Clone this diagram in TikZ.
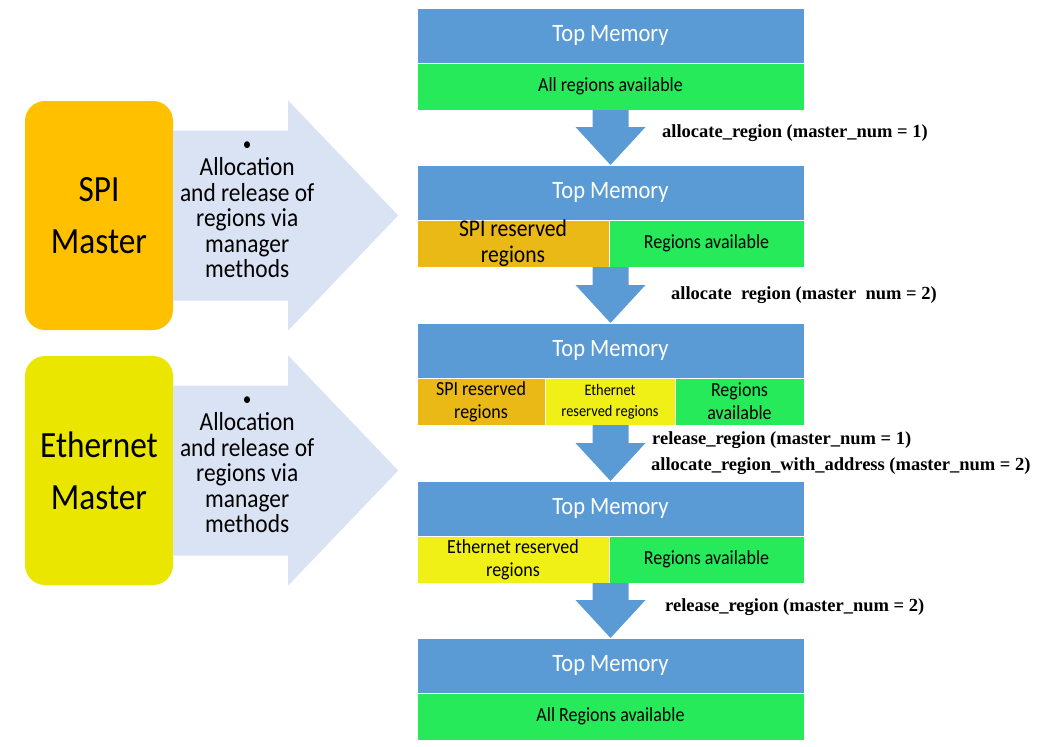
\documentclass[tikz,border=0pt]{standalone}
\usepackage{fontspec}
\setmainfont{Carlito}[FakeStretch=0.9]
\newfontfamily\callfont{Liberation Serif}
\usetikzlibrary{positioning,calc}

\definecolor{memblue}{RGB}{91,155,213}
\definecolor{freegreen}{RGB}{38,234,90}
\definecolor{spiorange}{RGB}{234,185,22}
\definecolor{ethyellow}{RGB}{240,240,22}
\definecolor{masterorange}{RGB}{255,192,0}
\definecolor{masteryellow}{RGB}{234,230,0}
\definecolor{armblue}{RGB}{218,227,243}

\tikzset{
  topmem/.style={fill=memblue, draw=white, line width=0.6pt, text=white,
    minimum width=387pt, minimum height=55pt, inner sep=0pt, outer sep=0pt,
    anchor=north west, font=\fontsize{25}{30}\selectfont},
  cell/.style={draw=white, line width=0.6pt, minimum height=47pt,
    inner sep=0pt, outer sep=0pt, anchor=north west, align=center,
    font=\fontsize{20}{23}\selectfont},
  master/.style={rounded corners=20pt, minimum width=148pt, minimum height=229pt,
    inner sep=0pt, align=center, font=\fontsize{37}{52}\selectfont},
  armtext/.style={align=center, inner sep=0pt, font=\fontsize{26}{25.5}\selectfont},
  call/.style={anchor=west, inner sep=0pt, font=\callfont\bfseries\fontsize{18.5}{22}\selectfont},
  downarrow/.style={fill=memblue}
}

\begin{document}
\begin{tikzpicture}[x=1pt,y=-1pt]
\useasboundingbox (0,0) rectangle (1037,747);

% memory states
\path (417,8) node (top1) [topmem] {Top Memory};
\path (top1.south west) node (low1) [cell, fill=freegreen, minimum width=387pt] {All regions available};

\path (417,165) node (top2) [topmem] {Top Memory};
\path (top2.south west) node (low2) [cell, fill=spiorange, minimum width=192pt, font=\fontsize{24}{26}\selectfont] {SPI reserved\\regions};
\node (free2) [cell, fill=freegreen, minimum width=195pt, right=0pt of low2] {Regions available};

\path (417,323) node (top3) [topmem] {Top Memory};
\path (top3.south west) node (low3) [cell, fill=spiorange, minimum width=128pt] {SPI reserved\\regions};
\node (eth3) [cell, fill=ethyellow, minimum width=130pt, right=0pt of low3, font=\fontsize{16}{21}\selectfont] {Ethernet\\reserved regions};
\node (free3) [cell, fill=freegreen, minimum width=129pt, right=0pt of eth3] {Regions\\available};

\path (417,481) node (top4) [topmem] {Top Memory};
\path (top4.south west) node (low4) [cell, fill=ethyellow, minimum width=192pt] {Ethernet reserved\\regions};
\node (free4) [cell, fill=freegreen, minimum width=195pt, right=0pt of low4] {Regions available};

\path (417,638) node (top5) [topmem] {Top Memory};
\path (top5.south west) node (low5) [cell, fill=freegreen, minimum width=387pt] {All Regions available};

% block arrows between the states
\foreach \a/\b in {1/2,2/3,3/4,4/5}
  \fill[downarrow] ($(top\a.south |- low\a.south)+(-18,0)$) -- ++(36,0)
    |- ($(top\b.north)+(35,-38)$) -- (top\b.north) -- ($(top\b.north)+(-35,-38)$)
    -| ($(top\a.south |- low\a.south)+(-18,0)$) -- cycle;

\path (662,133) node (call1) [call] {allocate\_region (master\_num = 1)};
\path (671,295) node (call2) [call] {allocate\ \ region (master\ \ num = 2)};
\path (652,440) node (call3) [call] {release\_region (master\_num = 1)};
\path (651,466) node (call4) [call] {allocate\_region\_with\_address (master\_num = 2)};
\path (665,607) node (call5) [call] {release\_region (master\_num = 2)};

% masters
\path (99,215.5) node (spi) [master, fill=masterorange] {SPI\\Master};
\path (99,470.5) node (eth) [master, fill=masteryellow] {Ethernet\\Master};

\foreach \m in {spi,eth} {
  \fill[armblue] ($(\m.east)+(0,-85)$) -- ++(115,0) -- ++(0,-30)
    -- ($(\m.east)+(225,0)$) -- ($(\m.east)+(115,115)$) -- ++(0,-30)
    -- ($(\m.east)+(0,85)$) -- cycle;
  \node (\m arm) [armtext] at ($(\m.east)+(74,-6)$)
    {{\fontsize{19}{19}\selectfont •}\\Allocation\\and release of\\regions via\\manager\\methods};
}
\end{tikzpicture}
\end{document}
